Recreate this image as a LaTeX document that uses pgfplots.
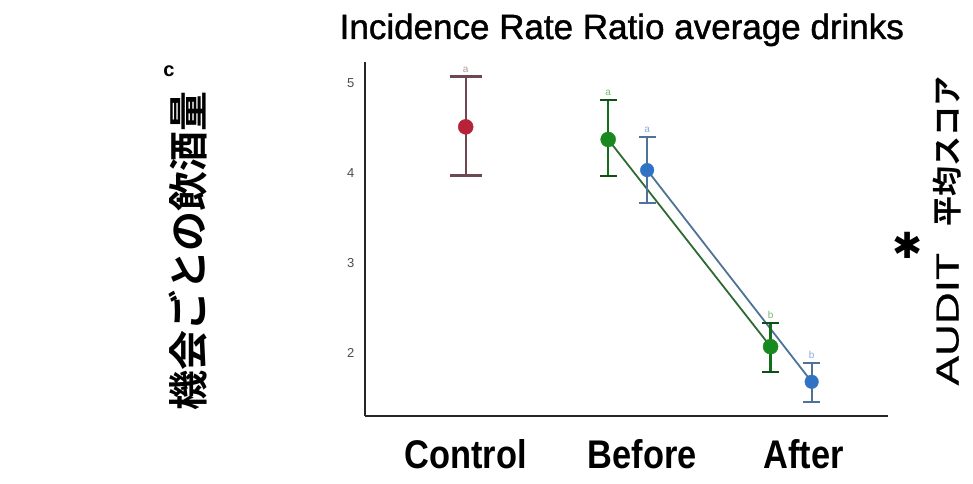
\documentclass[border=0pt]{standalone}
\usepackage{pgfplots}
\usepackage{pgfplotstable}
\pgfplotsset{compat=1.18}
\usepackage{fontspec}
\setmainfont{Liberation Sans}
\newfontfamily\jpfont{Noto Sans CJK JP}[BoldFont={Noto Sans CJK JP Bold}]
\newfontfamily\catfont{Liberation Sans}[FakeStretch=0.86]
\newfontfamily\widefont{Liberation Sans}[FakeStretch=1.38, FakeBold=0.6]
\newfontfamily\titlefont{Liberation Sans}[FakeBold=1.2]
\newfontfamily\symfont{DejaVu Sans}

\definecolor{ctrlred}{HTML}{B82238}
\definecolor{ctrlbar}{HTML}{6E4850}
\definecolor{grpgreen}{HTML}{17891F}
\definecolor{grpgreenline}{HTML}{2E6B34}
\definecolor{grpblue}{HTML}{3072C4}
\definecolor{grpblueline}{HTML}{4F7396}

% mean, upper and lower error per group
\pgfplotstableread{
x y ep em
0 4.51 0.56 0.54
}\ctrltab
\pgfplotstableread{
x y ep em
0.877 4.37 0.44 0.41
1.877 2.07 0.26 0.28
}\greentab
\pgfplotstableread{
x y ep em
1.117 4.03 0.37 0.36
2.130 1.68 0.21 0.22
}\bluetab

\begin{document}
\begin{tikzpicture}
\useasboundingbox (0,0) rectangle (973pt,483pt);
\begin{axis}[
  at={(365pt,67pt)}, anchor=south west,
  scale only axis, width=523pt, height=354pt,
  xmin=-0.62, xmax=2.6, ymin=1.3, ymax=5.23,
  axis lines=left,
  axis line style={-, line width=2pt, black!85},
  xtick={0,1.086,2.08},
  xticklabels={Control,Before,After},
  ytick={2,3,4,5},
  major tick length=0pt,
  xticklabel style={font=\catfont\bfseries\fontsize{40}{40}\selectfont, yshift=-20pt},
  yticklabel style={font=\fontsize{13}{13}\selectfont, text=black!70, xshift=-7pt},
  /pgf/number format/assume math mode=true,
  clip=false,
]
% connecting lines
\addplot[grpgreenline, line width=1.8pt, no marks] table[x=x,y=y]{\greentab};
\addplot[grpblueline, line width=1.8pt, no marks] table[x=x,y=y]{\bluetab};

% control group
\addplot[only marks, mark=*, mark size=7.5pt, draw=ctrlred, fill=ctrlred,
  error bars/.cd, y dir=both, y explicit,
  error bar style={ctrlbar, line width=2pt},
  error mark options={rotate=90, mark size=16pt, line width=2.2pt, ctrlbar}]
  table[x=x,y=y,y error plus=ep,y error minus=em]{\ctrltab};

% green group
\addplot[only marks, mark=*, mark size=7.5pt, draw=grpgreen, fill=grpgreen,
  error bars/.cd, y dir=both, y explicit,
  error bar style={grpgreen!80!black, line width=2.2pt},
  error mark options={rotate=90, mark size=8.5pt, line width=2pt, grpgreen!60!black}]
  table[x=x,y=y,y error plus=ep,y error minus=em]{\greentab};

% blue group
\addplot[only marks, mark=*, mark size=6.8pt, draw=grpblue, fill=grpblue,
  error bars/.cd, y dir=both, y explicit,
  error bar style={grpblueline, line width=2pt},
  error mark options={rotate=90, mark size=8.5pt, line width=2pt, grpblueline}]
  table[x=x,y=y,y error plus=ep,y error minus=em]{\bluetab};

% group letters
\begin{scope}[every node/.style={anchor=south, inner sep=1pt, yshift=3pt, font=\fontsize{10}{10}\selectfont}]
\node[text=ctrlbar!55] at (axis cs:0,5.07) {a};
\node[text=grpgreen!60] at (axis cs:0.877,4.81) {a};
\node[text=grpblue!60] at (axis cs:1.117,4.40) {a};
\node[text=grpgreen!60] at (axis cs:1.877,2.33) {b};
\node[text=grpblue!60] at (axis cs:2.130,1.89) {b};
\end{scope}

% titles and side labels
\node[anchor=base, font=\titlefont\fontsize{35}{35}\selectfont] at (axis description cs:0.491,1.065)
  {Incidence Rate Ratio average drinks};
\node[rotate=90, font=\jpfont\bfseries\fontsize{40}{40}\selectfont] at (axis description cs:-0.338,0.466)
  {機会ごとの飲酒量};
\node[rotate=90] at (axis description cs:1.113,0.522)
  {{\widefont\fontsize{32}{32}\selectfont AUDIT}\hspace{26pt}{\jpfont\bfseries\fontsize{30}{30}\selectfont 平均スコア}};
\node[font=\symfont\fontsize{36}{36}\selectfont, inner sep=0pt] at (axis description cs:1.038,0.482) {✱};
\node[font=\bfseries\fontsize{20}{20}\selectfont] at (axis description cs:-0.375,0.975) {c};
\end{axis}
\end{tikzpicture}
\end{document}
